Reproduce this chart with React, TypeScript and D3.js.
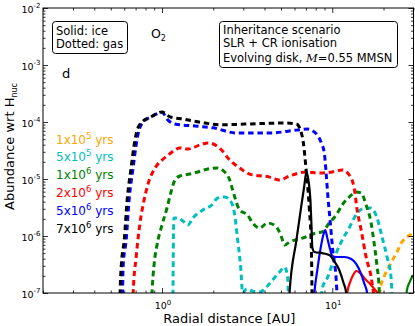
import React, { useEffect, useRef } from "react";
import * as d3 from "d3";

// values: [radial distance (AU), abundance wrt H_nuc]
// points below 1e-7 only carry the curve out of the frame
const gas1e5 = [[18.58, 3e-8], [19.09, 1.13e-7], [20.14, 1.91e-7], [22.13, 3.36e-7], [23.99, 5.25e-7], [25.67, 7.85e-7], [27.46, 9.6e-7], [28.6, 1.04e-6], [29.77, 1.0e-6]];

const gas5e5 = [[1.155, 3e-8], [1.16, 1e-7], [1.165, 6e-7], [1.175, 2.07e-6], [1.24, 2.07e-6], [1.327, 1.83e-6], [1.419, 1.56e-6], [1.518, 2.07e-6], [1.737, 2.86e-6], [1.96, 3.5e-6], [2.126, 4.64e-6], [2.335, 4.83e-6], [2.566, 3.8e-6], [2.673, 2.33e-6], [2.783, 8.5e-7], [2.897, 2.86e-7], [2.976, 1.0e-7], [3.141, 1.18e-7], [3.405, 1.08e-7], [3.74, 1.04e-7], [4.11, 1.27e-7], [4.46, 1.69e-7], [4.9, 2.33e-7], [5.24, 2.86e-7], [5.46, 2.0e-7], [5.61, 3e-8], [8.39, 3e-8], [8.74, 1.22e-7], [9.35, 1.83e-7], [9.87, 2.86e-7], [10.55, 5.0e-7], [11.44, 8.5e-7], [12.57, 1.38e-6], [13.45, 2.07e-6], [14.98, 2.98e-6], [16.91, 3.1e-6], [18.33, 2.07e-6], [19.61, 9.6e-7], [20.97, 4.3e-7], [22.13, 1.91e-7], [22.74, 3e-8]];

const gas1e6 = [[0.862, 3e-8], [0.874, 1e-7], [0.898, 3.1e-7], [0.935, 6.95e-7], [1.0, 1.56e-6], [1.07, 3.1e-6], [1.129, 5.9e-6], [1.191, 9.6e-6], [1.274, 1.13e-5], [1.458, 1.22e-5], [1.624, 1.33e-5], [1.858, 1.5e-5], [2.097, 1.56e-5], [2.335, 1.33e-5], [2.498, 9.6e-6], [2.6, 6.4e-6], [2.858, 2.86e-6], [3.184, 2.33e-6], [3.405, 1.69e-6], [3.74, 1.38e-6], [4.17, 1.69e-6], [4.7, 1.44e-6], [5.03, 9.6e-7], [5.24, 6.95e-7], [5.61, 7.85e-7], [6.68, 9.2e-7], [8.06, 1.13e-6], [8.74, 1.18e-6], [9.6, 1.69e-6], [10.55, 2.33e-6], [11.44, 3.5e-6], [12.57, 4.83e-6], [13.82, 5.9e-6], [14.78, 5.7e-6], [15.8, 3.5e-6], [16.91, 1.69e-6], [17.61, 7.5e-7], [18.33, 2.9e-7], [18.83, 1.27e-7], [19.09, 3e-8]];

const gas2e6 = [[0.668, 3e-8], [0.677, 1e-7], [0.705, 4.3e-7], [0.744, 1.76e-6], [0.785, 4.3e-6], [0.828, 8.2e-6], [0.91, 1.56e-5], [1.0, 2.15e-5], [1.07, 2.53e-5], [1.19, 3.23e-5], [1.27, 3.5e-5], [1.42, 3.36e-5], [1.67, 3.95e-5], [1.86, 4.3e-5], [2.18, 3.5e-5], [2.5, 2.15e-5], [2.86, 1.56e-5], [3.27, 1.22e-5], [4.28, 1.08e-5], [4.9, 9.6e-6], [5.61, 1.13e-5], [7.05, 1.33e-5], [8.39, 1.27e-5], [10.0, 1.33e-5], [11.44, 1.44e-5], [12.57, 1.18e-5], [13.45, 6.95e-6], [14.0, 2.86e-6], [14.78, 1.27e-6], [15.8, 4.3e-7], [16.91, 1.91e-7], [18.33, 3e-8]];

const gas5e6 = [[0.583, 3e-8], [0.587, 1.13e-7], [0.591, 2.9e-7], [0.616, 8.5e-7], [0.641, 4.3e-6], [0.677, 1.6e-5], [0.705, 3.95e-5], [0.733, 7.2e-5], [0.785, 1.04e-4], [0.862, 1.23e-4], [1.0, 1.47e-4], [1.084, 1.08e-4], [1.191, 9.2e-5], [1.56, 8.5e-5], [1.987, 7.9e-5], [2.746, 6.4e-5], [4.28, 6.4e-5], [6.16, 7.2e-5], [7.14, 7.5e-5], [8.06, 6.2e-5], [8.62, 4.3e-5], [8.98, 2.86e-5], [9.22, 1.18e-5], [9.41, 5.25e-6], [9.73, 1.76e-6], [10.13, 4.64e-7], [10.55, 1.69e-7], [10.84, 3e-8]];

const gas7e6 = [[0.565, 3e-8], [0.568, 1.13e-7], [0.576, 2.9e-7], [0.6, 8.5e-7], [0.624, 4.3e-6], [0.659, 1.6e-5], [0.686, 3.95e-5], [0.714, 7.2e-5], [0.764, 1.0e-4], [0.851, 1.2e-4], [1.0, 1.5e-4], [1.114, 1.23e-4], [1.327, 1.13e-4], [1.784, 9.6e-5], [2.184, 8.9e-5], [3.06, 9.2e-5], [5.24, 9.6e-5], [6.16, 9.2e-5], [6.68, 5.4e-5], [7.05, 1.27e-5], [7.34, 2.9e-6], [7.54, 5.7e-7], [7.64, 3e-8]];

const ice1e6 = [[26.36, 3e-8], [27.46, 1.13e-7], [28.6, 1.6e-7], [29.77, 2.07e-7]];

const ice2e6 = [[11.91, 3e-8], [12.24, 1e-7], [12.74, 1.56e-7], [13.27, 2.07e-7], [13.82, 2.43e-7], [14.58, 2.24e-7], [15.59, 1.76e-7], [16.68, 1.44e-7], [17.85, 1.13e-7], [18.83, 8.9e-8], [19.87, 3e-8]];

const ice5e6 = [[7.64, 3e-8], [7.85, 1e-7], [8.17, 2.53e-7], [8.51, 5.7e-7], [8.86, 1.04e-6], [9.1, 1.27e-6], [9.35, 9.2e-7], [9.73, 5.7e-7], [10.0, 4.46e-7], [10.55, 4.28e-7], [11.75, 4.28e-7], [12.92, 3.95e-7], [13.82, 3.23e-7], [14.78, 2.15e-7], [15.38, 1.5e-7], [16.02, 1e-7], [16.46, 3e-8]];

const ice7e6 = [[5.53, 3e-8], [5.61, 1e-7], [6.16, 8.5e-7], [6.59, 3.5e-6], [6.86, 7.85e-6], [7.05, 1.33e-5], [7.24, 9.6e-6], [7.44, 4.3e-6], [7.54, 1.69e-6], [7.64, 6.2e-7], [7.85, 5.25e-7], [8.74, 5.0e-7], [9.6, 4.64e-7], [10.27, 3.64e-7], [10.99, 2.53e-7], [11.6, 1.56e-7], [12.07, 1e-7], [12.4, 3e-8]];

const timeMant = ["1", "5", "1", "2", "5", "7"];
const timeExp = ["5", "5", "6", "6", "6", "6"];
const timeColors = ["#ffa500", "#00bfbf", "#008000", "#ff0000", "#0000ff", "#000000"];

const yTicks = [1e-7, 1e-6, 1e-5, 1e-4, 1e-3, 1e-2];
const yTickExp = ["-7", "-6", "-5", "-4", "-3", "-2"];
const xTicks = [1, 10];
const xTickExp = ["0", "1"];

const W = 415;
const H = 326;
const FONT = "'DejaVu Sans', sans-serif";

export default function App() {
  const svgRef = useRef(null);

  useEffect(() => {
    const svg = d3.select(svgRef.current);
    svg.selectAll("*").remove();

    const left = 43, right = 413.5, top = 8, bottom = 293;
    const x = d3.scaleLog().domain([0.2, 30]).range([left, right]);
    const y = d3.scaleLog().domain([1e-7, 1e-2]).range([bottom, top]);

    svg.append("rect").attr("width", W).attr("height", H).attr("fill", "#fff");

    svg.append("defs").append("clipPath").attr("id", "plot-clip")
      .append("rect")
      .attr("x", left).attr("y", top)
      .attr("width", right - left).attr("height", bottom - top);

    // ice (solid) then gas (dashed), oldest time drawn last
    const series = [
      { data: gas1e5, color: timeColors[0], dashed: true },
      { data: gas5e5, color: timeColors[1], dashed: true },
      { data: ice1e6, color: timeColors[2], dashed: false },
      { data: gas1e6, color: timeColors[2], dashed: true },
      { data: ice2e6, color: timeColors[3], dashed: false },
      { data: gas2e6, color: timeColors[3], dashed: true },
      { data: ice5e6, color: timeColors[4], dashed: false },
      { data: gas5e6, color: timeColors[4], dashed: true },
      { data: ice7e6, color: timeColors[5], dashed: false },
      { data: gas7e6, color: timeColors[5], dashed: true },
    ];

    const line = d3.line()
      .x(d => x(d[0]))
      .y(d => y(d[1]))
      .curve(d3.curveMonotoneX);

    const lines = svg.append("g").attr("clip-path", "url(#plot-clip)");
    series.forEach(s => {
      lines.append("path")
        .attr("d", line(s.data))
        .attr("fill", "none")
        .attr("stroke", s.color)
        .attr("stroke-width", s.dashed ? 3 : 2.2)
        .attr("stroke-dasharray", s.dashed ? "5.5,3.8" : null)
        .attr("stroke-linejoin", "round");
    });

    // minor tick positions on the log axes
    const yMinor = [];
    yTicks.slice(0, -1).forEach(t => { for (let m = 2; m < 10; m++) yMinor.push(t * m); });
    const xMinor = [];
    [0.1, 1, 10].forEach(t => { for (let m = 1; m < 10; m++) { const v = t * m; if (v >= 0.2 && v <= 30 && v !== 1 && v !== 10) xMinor.push(v); } });

    // inward ticks on all four sides
    const addAxis = (axis, tx, ty) => {
      const a = svg.append("g").attr("transform", `translate(${tx},${ty})`).call(axis);
      a.select(".domain").remove();
      a.selectAll("text").remove();
      a.selectAll("line").attr("stroke", "#000").attr("stroke-width", 0.8);
    };
    addAxis(d3.axisLeft(y).tickValues(yTicks).tickSize(-5), left, 0);
    addAxis(d3.axisLeft(y).tickValues(yMinor).tickSize(-2.5), left, 0);
    addAxis(d3.axisRight(y).tickValues(yTicks).tickSize(-5), right, 0);
    addAxis(d3.axisRight(y).tickValues(yMinor).tickSize(-2.5), right, 0);
    addAxis(d3.axisBottom(x).tickValues(xTicks).tickSize(-5), 0, bottom);
    addAxis(d3.axisBottom(x).tickValues(xMinor).tickSize(-2.5), 0, bottom);
    addAxis(d3.axisTop(x).tickValues(xTicks).tickSize(-5), 0, top);
    addAxis(d3.axisTop(x).tickValues(xMinor).tickSize(-2.5), 0, top);

    svg.append("rect")
      .attr("x", left).attr("y", top)
      .attr("width", right - left).attr("height", bottom - top)
      .attr("fill", "none").attr("stroke", "#000").attr("stroke-width", 1);

    // tick labels
    yTicks.forEach((t, i) => {
      const tx = svg.append("text")
        .attr("x", 40.5).attr("y", y(t) + 4.8)
        .attr("text-anchor", "end")
        .style("font-family", FONT).style("font-size", "9.5px").attr("fill", "#000");
      tx.append("tspan").text("10");
      tx.append("tspan").attr("dy", -4.5).style("font-size", "7px").text(yTickExp[i]);
    });
    xTicks.forEach((t, i) => {
      const tx = svg.append("text")
        .attr("x", x(t) + 1).attr("y", 309)
        .attr("text-anchor", "middle")
        .style("font-family", FONT).style("font-size", "9.5px").attr("fill", "#000");
      tx.append("tspan").text("10");
      tx.append("tspan").attr("dy", -4.5).style("font-size", "7px").text(xTickExp[i]);
    });

    // axis labels
    svg.append("text")
      .attr("x", (left + right) / 2 + 1).attr("y", 322.5)
      .attr("text-anchor", "middle")
      .style("font-family", FONT).style("font-size", "13px")
      .text("Radial distance [AU]");

    const yl = svg.append("text")
      .attr("transform", `translate(13.5, ${(top + bottom) / 2 - 4}) rotate(-90)`)
      .attr("text-anchor", "middle")
      .style("font-family", FONT).style("font-size", "13px");
    yl.append("tspan").text("Abundance wrt H");
    yl.append("tspan").attr("dy", 3).style("font-size", "8px").text("nuc");

    // legend of times
    timeMant.forEach((m, i) => {
      const t = svg.append("text")
        .attr("x", 56).attr("y", 143.5 + i * 17.8)
        .style("font-family", FONT).style("font-size", "12px")
        .attr("fill", timeColors[i]);
      t.append("tspan").text(`${m}x10`);
      t.append("tspan").attr("dy", -5).style("font-size", "8.5px").text(timeExp[i]);
      t.append("tspan").attr("dy", 5).text(" yrs");
    });

    // annotation boxes
    svg.append("rect")
      .attr("x", 52.5).attr("y", 21.5).attr("width", 75).attr("height", 32).attr("rx", 3)
      .attr("fill", "#fff").attr("stroke", "#000").attr("stroke-width", 1);
    ["Solid: ice", "Dotted: gas"].forEach((s, i) => {
      svg.append("text").attr("x", 56).attr("y", 34.5 + i * 13.5)
        .style("font-family", FONT).style("font-size", "11.5px").text(s);
    });

    const o2 = svg.append("text").attr("x", 151).attr("y", 37.5)
      .style("font-family", FONT).style("font-size", "12.5px");
    o2.append("tspan").text("O");
    o2.append("tspan").attr("dy", 3).style("font-size", "8px").text("2");

    svg.append("text").attr("x", 62).attr("y", 78)
      .style("font-family", FONT).style("font-size", "13px").text("d");

    svg.append("rect")
      .attr("x", 219.5).attr("y", 21.5).attr("width", 178).attr("height", 46).attr("rx", 3)
      .attr("fill", "#fff").attr("stroke", "#000").attr("stroke-width", 1);
    ["Inheritance scenario", "SLR + CR ionisation"].forEach((s, i) => {
      svg.append("text").attr("x", 223).attr("y", 33.5 + i * 13.8)
        .style("font-family", FONT).style("font-size", "11.5px").text(s);
    });
    const ev = svg.append("text").attr("x", 223).attr("y", 62)
      .style("font-family", FONT).style("font-size", "11.5px");
    ev.append("tspan").text("Evolving disk, ");
    ev.append("tspan").style("font-family", "'DejaVu Serif', serif").style("font-style", "italic").text("M");
    ev.append("tspan").text("=0.55 MMSN");
  }, []);

  return (
    <svg
      ref={svgRef}
      width={W}
      height={H}
      style={{ position: "absolute", left: 0, top: 0, display: "block" }}
    />
  );
}
